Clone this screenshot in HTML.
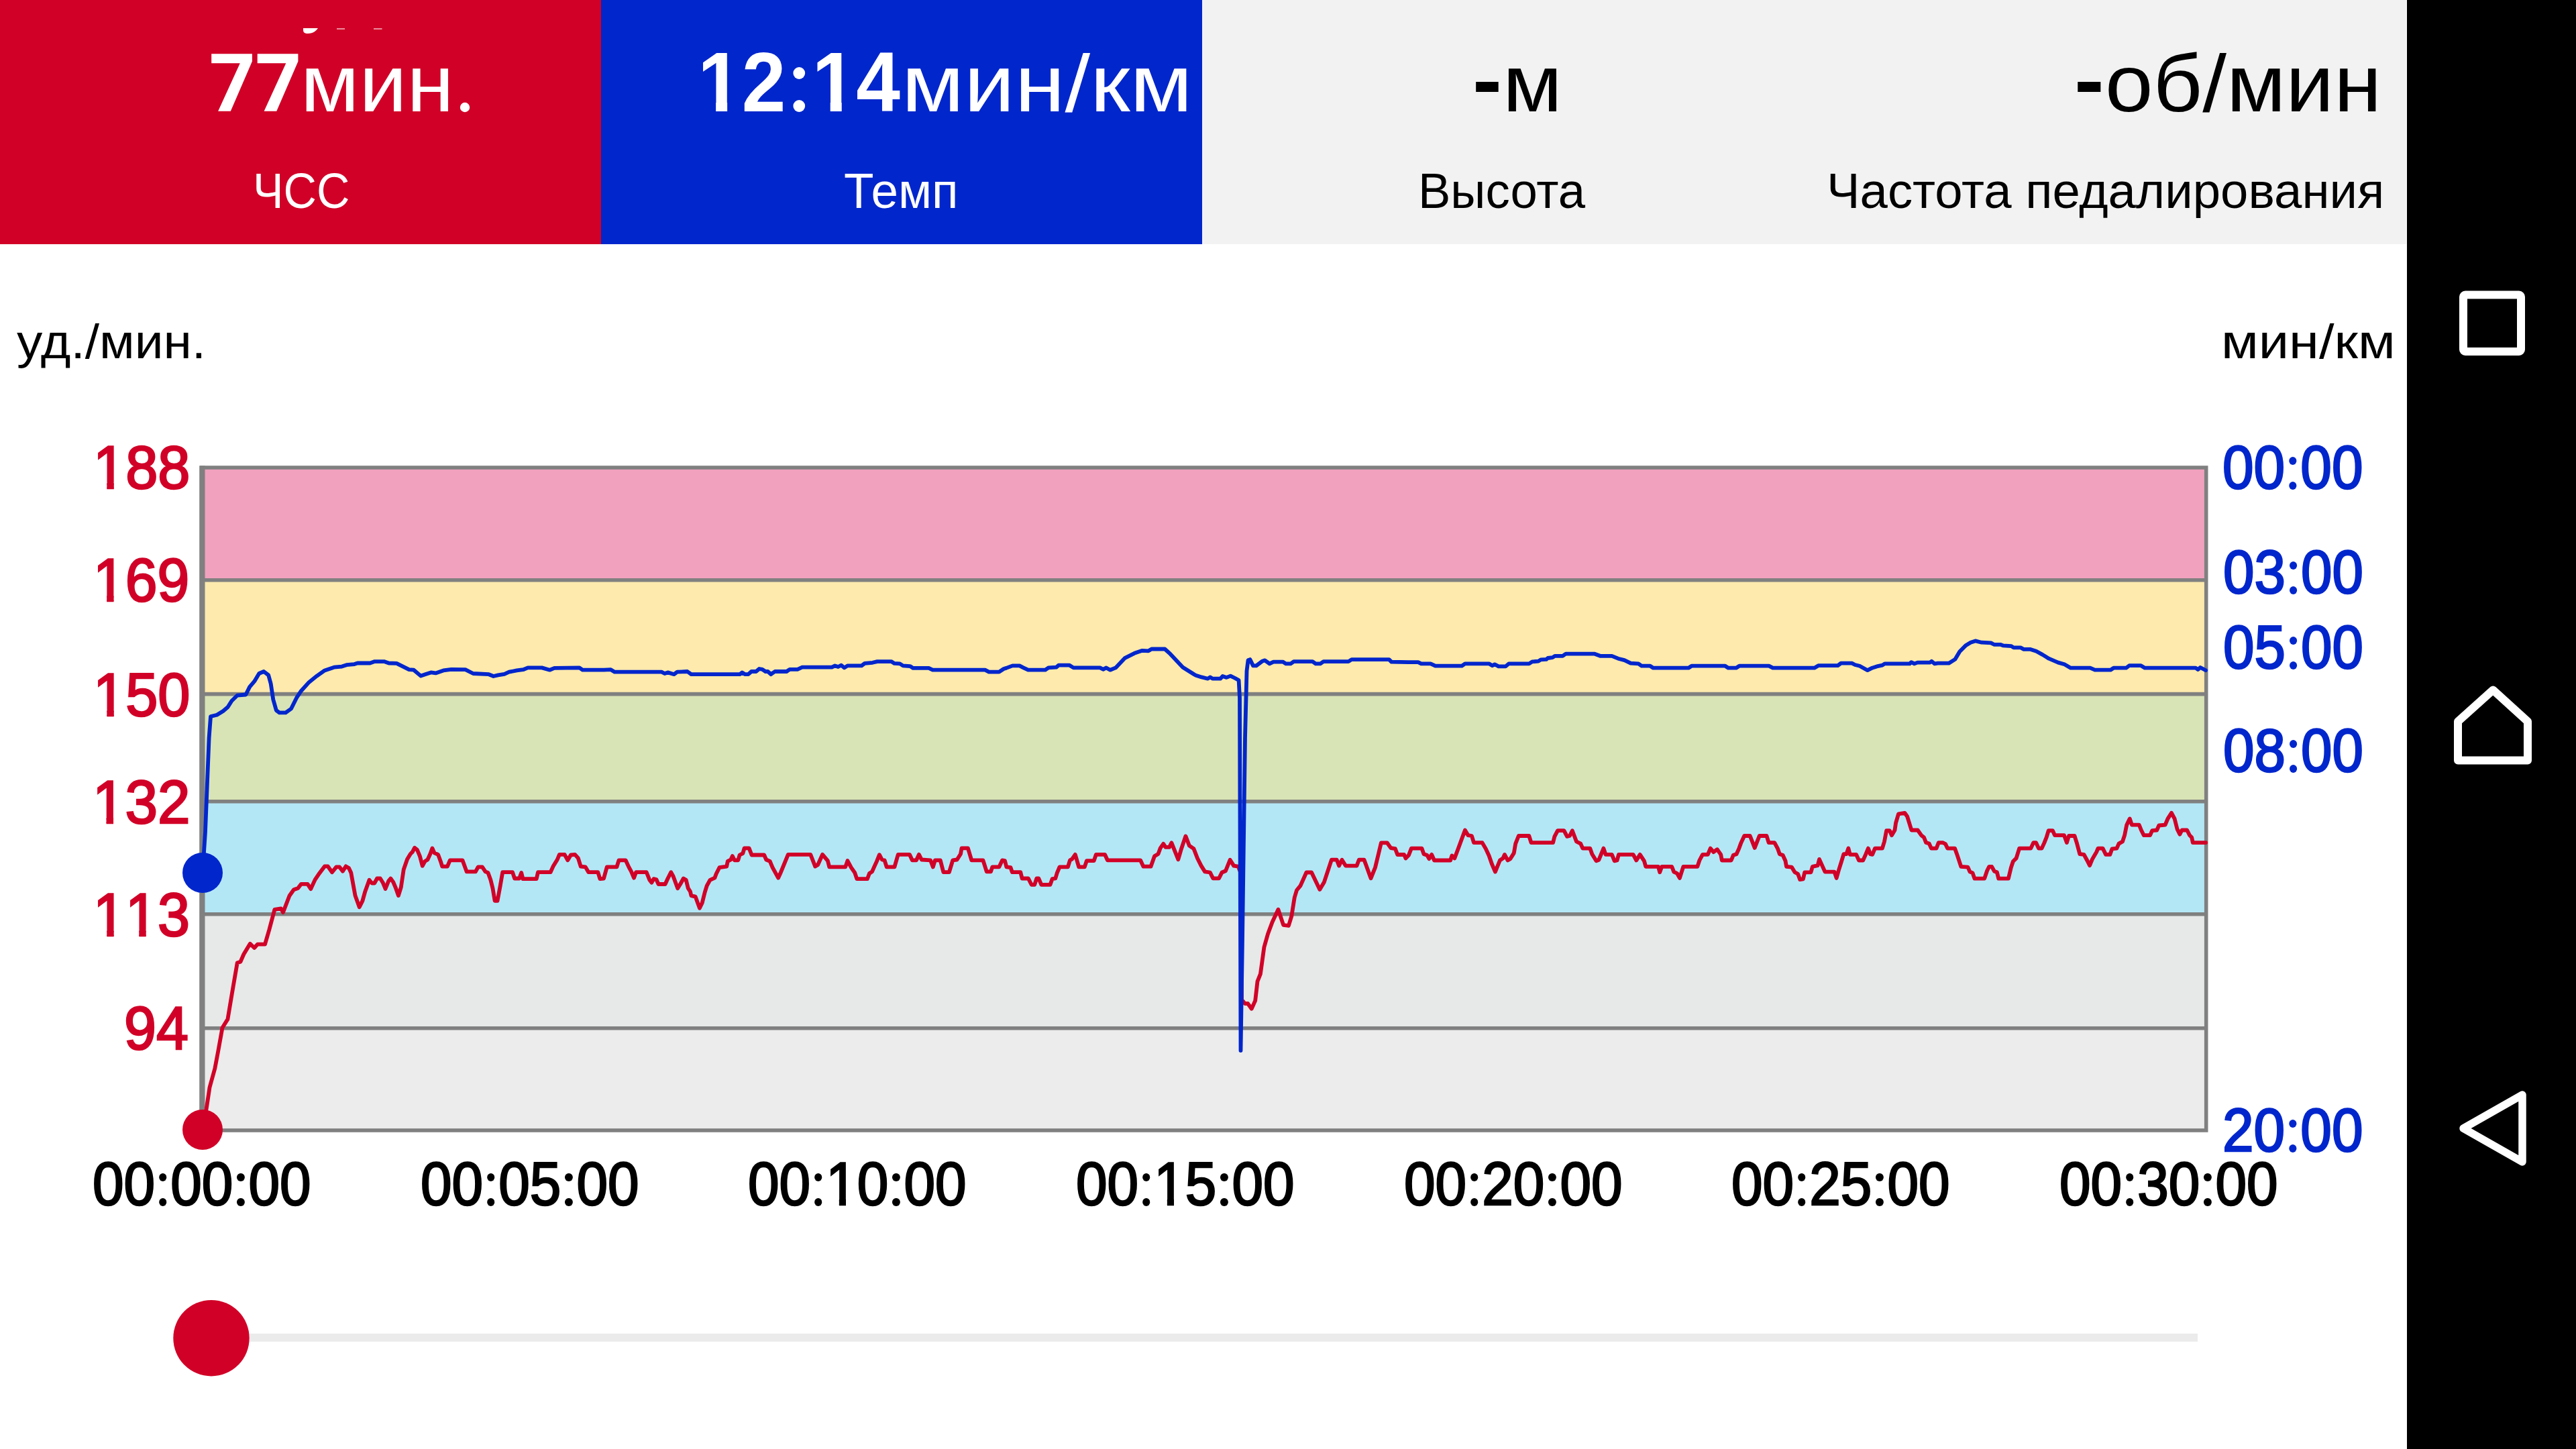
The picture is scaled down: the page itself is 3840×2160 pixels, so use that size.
<!DOCTYPE html>
<html><head><meta charset="utf-8">
<style>
html,body{margin:0;padding:0;width:3840px;height:2160px;overflow:hidden;background:#fff;font-family:"Liberation Sans",sans-serif;}
.a{position:absolute;}
.t{position:absolute;white-space:nowrap;line-height:1;transform-origin:0 0;}
.b{font-weight:bold;}
.w{color:#fff;}
.pdt{color:transparent!important;}
.cl,.cb{position:relative;color:transparent!important;-webkit-text-stroke-color:transparent!important;}
.cl::before,.cl::after,.cb::before,.cb::after{content:"";position:absolute;left:50%;border-radius:50%;background:var(--c);}
.cl::before,.cl::after{width:12.5px;height:12px;margin-left:-6.25px;}
.cl::before{top:35px}.cl::after{top:72px}
.cb::before,.cb::after{width:19px;height:18px;margin-left:-9.5px;}
.cb::before{top:48px}.cb::after{top:97px}
.o1{display:inline-block;clip-path:polygon(-0.2em -0.3em,0.8em -0.3em,0.8em 0.735em,0.374em 0.735em,0.374em 1.2em,0.23em 1.2em,0.23em 0.735em,-0.2em 0.735em);}
.o1r{display:inline-block;clip-path:polygon(-0.2em -0.3em,0.8em -0.3em,0.8em 0.755em,0.356em 0.755em,0.356em 1.2em,0.235em 1.2em,0.235em 0.755em,-0.2em 0.755em);}

</style></head><body>
<!-- header -->
<div class="a" style="left:0;top:0;width:896px;height:364px;background:#d10027"></div>
<div class="a" style="left:896px;top:0;width:896px;height:364px;background:#0026cc"></div>
<div class="a" style="left:1792px;top:0;width:1795px;height:364px;background:#f2f2f2"></div>
<!-- nav bar -->
<div class="a" style="left:3588px;top:0;width:252px;height:2160px;background:#000"></div>
<svg class="a" style="left:0;top:0" width="3840" height="2160" viewBox="0 0 3840 2160">
  <!-- zones -->
  <rect x="302" y="697" width="2987" height="168" fill="#f1a1be"/>
  <rect x="302" y="864.7" width="2987" height="170" fill="#feeaad"/>
  <rect x="302" y="1034.5" width="2987" height="160" fill="#d9e4b6"/>
  <rect x="302" y="1194.5" width="2987" height="168" fill="#b4e7f6"/>
  <rect x="302" y="1362.5" width="2987" height="170" fill="#e7e8e8"/>
  <rect x="302" y="1532.5" width="2987" height="153" fill="#ececec"/>
  <g stroke="#808080" stroke-width="5.6" fill="none">
    <line x1="302" y1="864.7" x2="3289" y2="864.7"/>
    <line x1="302" y1="1034.6" x2="3289" y2="1034.6"/>
    <line x1="302" y1="1194.7" x2="3289" y2="1194.7"/>
    <line x1="302" y1="1362.7" x2="3289" y2="1362.7"/>
    <line x1="302" y1="1532.7" x2="3289" y2="1532.7"/>
    <rect x="300" y="697" width="2988.7" height="988"/>
  </g>
  <line x1="302" y1="694.2" x2="302" y2="1687.8" stroke="#808080" stroke-width="7"/>
  <!-- 77 glyphs -->
  <polygon points="315.2,80.2 375.9,80.2 375.9,91.4 343.8,165.8 325.1,165.8 357.8,94.3 315.2,94.3" fill="#fff"/>
  <polygon points="383.7,80.2 444.4,80.2 444.4,91.4 412.3,165.8 393.6,165.8 426.3,94.3 383.7,94.3" fill="#fff"/>
  <circle cx="693" cy="160" r="7.2" fill="#fff"/>
  <!-- clipped text fragments -->
  <path d="M452,42 L474,42 C471,46 467,50 459,50 C454,50 452,48 452,45 Z" fill="#fff"/>
  <rect x="502" y="42" width="12" height="2" fill="#fff" opacity="0.55"/>
  <rect x="557" y="42" width="12.5" height="2" fill="#fff" opacity="0.55"/>
  <!-- nav icons -->
  <g stroke="#fff" stroke-width="12" fill="none" stroke-linejoin="round">
    <rect x="3672" y="439.5" width="86" height="84.5" rx="3"/>
    <path d="M3664,1133.5 L3664,1075.5 L3716.3,1028.5 L3768,1075.5 L3768,1133.5 Z"/>
    <path d="M3760,1632 L3760,1732 L3672,1682 Z" stroke-width="11.5"/>
  </g>
  <!-- slider -->
  <rect x="372" y="1988" width="2904" height="12" fill="#ebebeb"/>
  <circle cx="315" cy="1994.7" r="56.7" fill="#d10027"/>
</svg>
<div class="t" style="left:448.0px;top:64.0px;font-size:121px;transform:scaleX(1.0509);color:#fff;--c:#fff;">мин<span class="pdt">.</span></div>
<div class="t" style="left:1039.5px;top:60.0px;font-size:126px;transform:scaleX(0.9366);font-weight:bold;color:#fff;--c:#fff;"><span class="o1">1</span>2<span class="cb">:</span><span class="o1">1</span>4</div>
<div class="t" style="left:1343.7px;top:64.0px;font-size:121px;transform:scaleX(1.1194);color:#fff;--c:#fff;">мин/км</div>
<div class="t" style="left:2194.8px;top:55.5px;font-size:126px;transform:scaleX(1.0469);font-weight:bold;color:#000;--c:#000;">-</div>
<div class="t" style="left:2239.8px;top:64.0px;font-size:121px;transform:scaleX(1.0672);color:#000;--c:#000;">м</div>
<div class="t" style="left:3092.4px;top:55.5px;font-size:126px;transform:scaleX(1.0656);font-weight:bold;color:#000;--c:#000;">-</div>
<div class="t" style="left:3138.1px;top:64.0px;font-size:121px;transform:scaleX(1.0629);color:#000;--c:#000;">об/мин</div>
<div class="t" style="left:376.8px;top:247.0px;font-size:75px;transform:scaleX(0.9114);color:#fff;--c:#fff;">ЧСС</div>
<div class="t" style="left:1257.9px;top:247.0px;font-size:75px;transform:scaleX(0.9716);color:#fff;--c:#fff;">Темп</div>
<div class="t" style="left:2114.0px;top:247.0px;font-size:75px;transform:scaleX(0.9667);color:#000;--c:#000;">Высота</div>
<div class="t" style="left:2722.5px;top:247.0px;font-size:75px;transform:scaleX(0.9911);color:#000;--c:#000;">Частота педалирования</div>
<div class="t" style="left:25.0px;top:471.5px;font-size:73px;transform:scaleX(1.0496);color:#000;--c:#000;">уд./мин.</div>
<div class="t" style="left:3311.4px;top:472.0px;font-size:73px;transform:scaleX(1.1116);color:#000;--c:#000;">мин/км</div>
<div class="t" style="left:139.3px;top:650.5px;font-size:91px;transform:scaleX(0.9507);-webkit-text-stroke:2.6px #d10027;color:#d10027;--c:#d10027;"><span class="o1r">1</span>88</div>
<div class="t" style="left:139.4px;top:819.3px;font-size:91px;transform:scaleX(0.9437);-webkit-text-stroke:2.6px #d10027;color:#d10027;--c:#d10027;"><span class="o1r">1</span>69</div>
<div class="t" style="left:139.3px;top:989.5px;font-size:91px;transform:scaleX(0.9510);-webkit-text-stroke:2.6px #d10027;color:#d10027;--c:#d10027;"><span class="o1r">1</span>50</div>
<div class="t" style="left:137.8px;top:1149.7px;font-size:91px;transform:scaleX(0.9585);-webkit-text-stroke:2.6px #d10027;color:#d10027;--c:#d10027;"><span class="o1r">1</span>32</div>
<div class="t" style="left:139.4px;top:1317.5px;font-size:91px;transform:scaleX(0.9479);-webkit-text-stroke:2.6px #d10027;color:#d10027;--c:#d10027;"><span class="o1r">1</span><span class="o1r">1</span>3</div>
<div class="t" style="left:185.0px;top:1486.9px;font-size:91px;transform:scaleX(0.9474);-webkit-text-stroke:2.6px #d10027;color:#d10027;--c:#d10027;">94</div>
<div class="t" style="left:3313.2px;top:651.0px;font-size:91px;transform:scaleX(0.9196);-webkit-text-stroke:2.6px #0026cc;color:#0026cc;--c:#0026cc;">00<span class="cl">:</span>00</div>
<div class="t" style="left:3313.7px;top:806.9px;font-size:91px;transform:scaleX(0.9174);-webkit-text-stroke:2.6px #0026cc;color:#0026cc;--c:#0026cc;">03<span class="cl">:</span>00</div>
<div class="t" style="left:3313.7px;top:919.1px;font-size:91px;transform:scaleX(0.9174);-webkit-text-stroke:2.6px #0026cc;color:#0026cc;--c:#0026cc;">05<span class="cl">:</span>00</div>
<div class="t" style="left:3313.7px;top:1072.5px;font-size:91px;transform:scaleX(0.9174);-webkit-text-stroke:2.6px #0026cc;color:#0026cc;--c:#0026cc;">08<span class="cl">:</span>00</div>
<div class="t" style="left:3312.7px;top:1639.2px;font-size:91px;transform:scaleX(0.9197);-webkit-text-stroke:2.6px #0026cc;color:#0026cc;--c:#0026cc;">20<span class="cl">:</span>00</div>
<div class="t" style="left:138.1px;top:1719.1px;font-size:91px;transform:scaleX(0.9186);-webkit-text-stroke:2.6px #000;color:#000;--c:#000;">00<span class="cl">:</span>00<span class="cl">:</span>00</div>
<div class="t" style="left:626.7px;top:1719.1px;font-size:91px;transform:scaleX(0.9186);-webkit-text-stroke:2.6px #000;color:#000;--c:#000;">00<span class="cl">:</span>05<span class="cl">:</span>00</div>
<div class="t" style="left:1115.3px;top:1719.1px;font-size:91px;transform:scaleX(0.9186);-webkit-text-stroke:2.6px #000;color:#000;--c:#000;">00<span class="cl">:</span><span class="o1r">1</span>0<span class="cl">:</span>00</div>
<div class="t" style="left:1603.9px;top:1719.1px;font-size:91px;transform:scaleX(0.9186);-webkit-text-stroke:2.6px #000;color:#000;--c:#000;">00<span class="cl">:</span><span class="o1r">1</span>5<span class="cl">:</span>00</div>
<div class="t" style="left:2092.5px;top:1719.1px;font-size:91px;transform:scaleX(0.9186);-webkit-text-stroke:2.6px #000;color:#000;--c:#000;">00<span class="cl">:</span>20<span class="cl">:</span>00</div>
<div class="t" style="left:2581.1px;top:1719.1px;font-size:91px;transform:scaleX(0.9186);-webkit-text-stroke:2.6px #000;color:#000;--c:#000;">00<span class="cl">:</span>25<span class="cl">:</span>00</div>
<div class="t" style="left:3069.7px;top:1719.1px;font-size:91px;transform:scaleX(0.9186);-webkit-text-stroke:2.6px #000;color:#000;--c:#000;">00<span class="cl">:</span>30<span class="cl">:</span>00</div>

<svg class="a" style="left:0;top:0" width="3840" height="2160" viewBox="0 0 3840 2160">
<polyline points="302,1684 307.7,1652.7 312.5,1621 320.4,1592.4 325.2,1567 331.5,1532 339.4,1519.4 345.8,1481.3 353.7,1435.2 358.5,1433.7 363.3,1422.5 372.8,1406.7 379.1,1413 383.9,1407.6 395,1407.6 401.3,1386 409.3,1355.9 418.8,1354.3 422,1360 431.5,1335.2 437.9,1326.3 444.2,1324.1 449,1317.8 458.5,1317.8 463.3,1325.1 469.6,1311.4 476,1301.9 483.9,1291.4 488.7,1291.4 495,1300.3 501.3,1292.4 506.1,1292.4 510.9,1298.7 515.6,1291.4 520,1294 523.3,1300.9 526.4,1318 529.5,1335.1 535.7,1352.2 540.4,1342.9 544.3,1328.9 550.5,1311.8 554.3,1316.5 558.2,1316.5 562.1,1309.5 566.8,1309.5 570.7,1315.7 574.5,1325 579.2,1313.4 582.3,1309.5 586.2,1314.9 590.1,1324.2 593.9,1335.1 597.8,1322.7 601.7,1296.3 607.1,1280.7 611.8,1273 614.9,1269.9 618,1263.7 621.9,1266.8 625.8,1276.1 629.7,1290.8 633.5,1283.9 637.4,1281.5 641.3,1273 644.4,1264.4 647.5,1271.4 653,1273.8 656.8,1283.9 659.2,1291.6 666.9,1291.6 670.8,1282.3 689.4,1282.3 695.7,1299.4 708.9,1299.4 712.7,1292.4 718.9,1292.4 723.6,1299.4 727.5,1300.9 731.4,1311.8 734.5,1324.2 737.6,1342.9 741.5,1342.9 745.3,1322.7 749.2,1300.2 764,1300.2 767.1,1309.5 774.1,1309.5 777.2,1300.9 779.5,1310.2 799.7,1310.2 802,1300.2 820.6,1300.2 824.5,1291.6 830.7,1281.5 833.9,1273.8 841.6,1273.8 846.3,1282.3 850.9,1274.5 857.1,1273.8 861.8,1279.2 865.7,1291.6 872.7,1292.4 877.3,1300.2 891.3,1300.2 894.4,1310.2 900,1309.5 904.7,1292.4 919.4,1292.4 922.5,1282.3 932.6,1282.3 937.3,1292.4 941.1,1299.4 945,1308.7 948.1,1300.2 963.7,1300.2 968.3,1311.8 971.4,1315.7 974.5,1310.2 978.4,1311 981.5,1318 991.6,1318 995.5,1309.5 1000.2,1300.2 1003.3,1305.6 1010.2,1324.2 1014.1,1318 1018.8,1309.5 1022.7,1311.8 1025.8,1324.2 1028.9,1328.9 1030.4,1335.1 1036.6,1336.6 1042.9,1353.7 1046.7,1346 1050.6,1330.4 1053.7,1320.3 1058.4,1311.8 1065.4,1308.7 1067.7,1302.5 1072.4,1293.2 1083.2,1291.6 1084.8,1283.9 1089.4,1281.5 1091.8,1276.1 1094.9,1282.3 1100.3,1282.3 1102.6,1274.5 1107.3,1272.2 1109.6,1264.4 1116.6,1264.4 1120.5,1274.5 1139.1,1274.5 1142.2,1281.5 1147.7,1283.9 1151.6,1293.2 1160.1,1308.7 1164,1300.2 1174.8,1273.8 1208.2,1273.8 1215.2,1291.6 1219.1,1289.3 1226.1,1273.8 1233.9,1283.1 1236.2,1292.4 1260.2,1292.4 1263.4,1283.1 1268.8,1293.2 1274.2,1300.9 1277.3,1310.2 1292.9,1310.2 1296,1302 1300,1299.4 1303.1,1292.4 1307,1283.9 1310.9,1274.2 1314.8,1281.5 1318.6,1282.3 1321.7,1292.4 1333.4,1292.4 1338.8,1273.8 1355.9,1273.8 1359.8,1282.3 1366,1282.3 1369.9,1273.8 1373.8,1281.5 1387,1282.3 1390.8,1292.4 1393.9,1282.3 1401.7,1282.3 1406.4,1300.2 1414.9,1300.2 1420.3,1282.3 1426.6,1281.5 1432,1273 1433.5,1264.4 1442.9,1264.4 1448.3,1282.3 1465.4,1282.3 1470.8,1299.4 1477,1299.4 1479.3,1292.4 1489.4,1292.4 1494.1,1282.3 1498,1283.1 1500.3,1292.4 1506.5,1293.2 1508.9,1300.2 1521.3,1300.2 1523.6,1309.5 1532.9,1309.5 1537.6,1318.8 1542.2,1318.8 1545.3,1309.5 1548.4,1309.5 1552.3,1318.8 1565.5,1318.8 1568.6,1310.2 1573.3,1309.5 1575.6,1301.7 1579.5,1292.4 1591.9,1292.4 1595,1282.3 1598.1,1280.7 1602.8,1273.8 1608.2,1292.4 1616.8,1292.4 1619.9,1283.1 1630.7,1283.1 1633.9,1273.8 1647,1273.8 1650.9,1282.3 1700,1282.3 1704.4,1291.7 1715.5,1291.7 1721,1276.2 1726.5,1272.9 1729.8,1264.1 1734.2,1257.9 1737.5,1262.9 1743.1,1262.9 1746.4,1256.3 1750.8,1267.4 1756.3,1281.3 1760.7,1266.3 1767.4,1246.4 1772.9,1260.7 1779.5,1265.2 1785,1279.5 1790.6,1290.6 1796.1,1299.4 1803.8,1300.5 1808.2,1309.3 1817.1,1309.3 1821.5,1300.5 1827,1298.3 1833.6,1281.7 1839.2,1290.6 1845.8,1291.7 1849,1300 1851,1490 1855.7,1496 1860.1,1496 1865.7,1503.7 1871.2,1491.6 1874.5,1462.8 1878.9,1451.8 1884.4,1412 1890,1392.2 1896.6,1374.5 1905.4,1355.7 1913.1,1378.9 1920.9,1380 1925.3,1365.7 1929.7,1338 1933,1327 1938.5,1320.4 1947.4,1300.5 1955.1,1300.5 1967.3,1325.9 1973.9,1314.9 1984.9,1281.7 1992.7,1281.7 1996,1290.6 2000.4,1281.7 2005.9,1290.6 2022.5,1290.6 2025.8,1281.7 2033.5,1281.7 2043.5,1309.3 2050.1,1292.8 2058.9,1256.3 2067.7,1256.3 2073.3,1264.1 2079.9,1265.2 2083.2,1274 2093.1,1274 2095.4,1279.5 2100,1274.7 2103.9,1264.6 2119.4,1264.6 2122.5,1273.2 2127.2,1274.7 2130.3,1280.2 2134.2,1273.9 2138,1282.5 2162.1,1282.5 2164.4,1275.5 2168.3,1279.4 2173,1267 2177.6,1254.5 2183.9,1237.5 2188.5,1245.2 2193.9,1246 2197,1256.1 2209.5,1256.1 2214.9,1265.4 2219.6,1275.5 2224.2,1288.7 2228.9,1299.6 2235.9,1282.5 2240.5,1279.4 2242.9,1273.9 2247.5,1282.5 2251.4,1280.2 2256.8,1271.6 2259.2,1257.6 2263.8,1246 2279.3,1246 2282.5,1256.1 2315.1,1256.1 2317.4,1246.8 2322,1238.2 2331.4,1238.2 2336,1246.8 2339.9,1246 2343.8,1238.2 2350,1254.5 2356.2,1257.6 2359.3,1264.6 2370.2,1264.6 2373.3,1273.2 2379.5,1283.3 2383.4,1281.7 2390.4,1264.6 2393.5,1273.9 2402.8,1273.9 2406.7,1283.3 2410.6,1282.5 2412.9,1273.9 2434.6,1273.9 2439.3,1282.5 2444.7,1273.9 2450.9,1283.3 2453.3,1291.8 2471.9,1291.8 2474.2,1300.3 2477.3,1291.8 2492.1,1291.8 2495.2,1299.6 2500,1302 2503.9,1308.9 2509.3,1291.8 2530.3,1291.8 2533.4,1282.5 2538,1273.9 2545.8,1273.9 2549.7,1264.6 2554.3,1270.1 2559.8,1266.2 2565.2,1273.9 2566.8,1282.5 2580.7,1282.5 2583.9,1274.7 2588.5,1273.2 2592.4,1264.6 2595.5,1256.1 2600.2,1246 2608.7,1246 2615.7,1263.9 2622.7,1246 2633.5,1246 2636.6,1256.1 2645.2,1256.1 2649.8,1264.6 2652.9,1273.2 2657.6,1274.7 2661.5,1283.3 2663,1291.8 2670.8,1292.6 2675.5,1300.3 2680.1,1302.7 2683.2,1311.2 2687.9,1310.4 2690.2,1300.3 2699.5,1300.3 2701.9,1291.8 2709.6,1290.2 2712,1280.9 2720.5,1299.6 2734.5,1299.6 2737.6,1308.9 2740.7,1298 2744.6,1285.6 2748.4,1273.2 2752.3,1273.2 2755.4,1264.6 2757.8,1273.9 2767.1,1273.9 2771,1282.5 2777.2,1282.5 2781.1,1273.9 2784.9,1264.6 2788,1273.2 2791.1,1273.9 2795,1264.6 2805.9,1264.6 2809,1254.5 2812.1,1238.2 2816.8,1238.2 2819.9,1245.2 2824.5,1237.5 2826.1,1226.6 2830,1213.4 2839.3,1211.8 2843.2,1217.3 2849.4,1237.5 2858.7,1237.5 2864.1,1245.2 2868,1248.3 2871.1,1256.1 2875.8,1257.6 2878.9,1264.6 2886.6,1264.6 2889.8,1256.1 2896,1256.1 2900,1258 2903.1,1264.6 2914,1264.6 2917.1,1273.2 2923.3,1291.8 2933.4,1292.6 2936.5,1299.6 2940.4,1301.1 2943.5,1309.7 2958.2,1309.7 2962.1,1298 2965.2,1291.8 2969.1,1291.8 2973,1298.8 2976.9,1300.3 2979.2,1309.7 2993.9,1309.7 2997.8,1293.4 3000.9,1284 3005.6,1279.4 3010.2,1264.6 3027.3,1264.6 3031.2,1256.1 3035.1,1256.1 3039,1264.6 3043.6,1264.6 3047.5,1256.1 3050.6,1248.3 3053.7,1238.2 3059.9,1238.2 3063,1245.2 3077,1245.2 3080.9,1256.1 3084,1246 3092.5,1246 3095.7,1256.1 3100.3,1273.2 3106.5,1273.9 3111.2,1282.5 3115.1,1290.2 3118.9,1280.9 3125.2,1270.1 3127.5,1264.6 3134.5,1264.6 3139.1,1273.9 3145.3,1273.9 3148.4,1265.4 3155.4,1264.6 3158.5,1257.6 3164,1254.5 3167.1,1245.2 3170.2,1229.7 3174.8,1220.4 3177.9,1229.7 3188.8,1229.7 3191.9,1237.5 3195.8,1245.2 3205.1,1245.2 3208.2,1238.2 3215.2,1237.5 3218.3,1230.5 3227.6,1229.7 3231.5,1220.4 3237,1211.8 3241.6,1220.4 3245.5,1235.9 3249.4,1243.7 3252.5,1237.5 3260.2,1237.5 3264.1,1245.2 3267.2,1248.3 3268.8,1256.1 3288.2,1256.1" fill="none" stroke="#d10027" stroke-width="5.8" stroke-linejoin="round" stroke-linecap="round"/>
<polyline points="302,1301 306,1240 311.6,1100 314,1068 323.3,1065.8 332.6,1060 339.6,1054 345.4,1044.8 353.6,1036.7 366.4,1035.5 372.2,1023.9 379.2,1015.7 386.2,1004 393.2,1001 400.2,1006.4 403.7,1019.2 407.2,1042.5 411.8,1058.8 416.5,1062.3 425.8,1062.3 434,1056.5 442.1,1040.2 449.1,1029.7 460.7,1016.9 472.4,1007.6 484,999.4 498,994.7 509.6,993.6 516.6,991.2 528.3,990.1 533,988.5 551.6,988.5 558.6,986.1 572.5,986.1 579.5,988.5 591.2,988.9 602.8,994.7 609.8,998.2 616.8,998.7 627.3,1007.6 635.4,1004.8 642.4,1002.4 649.4,1003.4 661,999.4 672.7,997.8 693.7,998.2 705.3,1004 728.6,1005.2 735.6,1008 742.6,1006.4 751.9,1004.8 758.9,1001.7 770.5,999.4 779.9,998.2 786.8,995.4 807.8,995.4 819.4,998.7 826.4,995.9 863.7,995.4 868.4,998.7 900,998.7 910.5,998.2 916.3,1001.7 986.2,1001.7 990.8,1004 995.5,1002.4 1004.8,1005.2 1009.5,1001.7 1024.6,1001 1030.4,1005.2 1102.7,1005.2 1106.2,1002.4 1110.8,1005.2 1115.5,1005.2 1120.1,1001 1127.1,1001 1131.8,997 1136.4,997.8 1141.1,1001 1144.6,1001 1149.2,1005.2 1155.1,1001 1172.5,1001 1177.2,997.8 1188.8,997.8 1195.8,994.7 1240.1,994.7 1244.7,992.4 1249.4,994 1254.1,991.7 1258.7,995.4 1263.4,992.4 1284.3,992.4 1289,988.9 1300.7,987.8 1307.6,986.1 1328.6,986.1 1333.3,988.9 1341.4,989.4 1346.1,992.4 1356.6,993.1 1361.2,995.9 1384.5,995.9 1390.3,998.7 1468.4,998.7 1474.2,1001.7 1489.3,1001.7 1496.3,997 1500,995.9 1509.3,992.4 1519.8,992.4 1525.6,995.4 1532.6,998.7 1558.2,998.7 1562.9,995.4 1574.5,994.7 1578,991.7 1594.3,991.7 1600.2,995.4 1639.8,995.4 1644.4,997.8 1649.1,995.4 1654.9,998.7 1663.1,995.4 1677,980.8 1691,973.8 1702.7,969.8 1712,970.3 1716.6,967.5 1736.4,967.5 1744.6,974.9 1763.2,994.7 1781.9,1006.4 1791.2,1009.4 1800.5,1011.7 1804,1009.4 1807.5,1011.7 1819.1,1011.7 1822.6,1008 1828.4,1009.9 1834.3,1007.6 1841.2,1011 1846.6,1014.1 1848,1040 1849.5,1566 1852,1400 1856,1100 1858.5,1000 1860.5,984.3 1863.4,983.1 1868,992.4 1872.7,992.4 1882,985.4 1885.5,984.3 1892.5,989.4 1898.3,986.6 1912.3,986.6 1917,989.4 1924,989.4 1928.6,986.1 1956.6,986.1 1961.2,989.4 1968.2,989.4 1972.9,986.1 2010.1,986.1 2014.8,983.1 2070.7,983.1 2074.2,986.6 2100,987.1 2114,987.1 2118.6,989.4 2132.6,989.4 2139.6,992.7 2179.2,992.7 2183.9,989.4 2220,989.4 2224.6,992.2 2228.1,990.3 2233.9,993.4 2244.4,993.4 2249.1,989.4 2279.4,989.4 2284,986.4 2293.3,985.7 2296.8,983.4 2305,982.9 2307.3,981 2314.3,980.1 2317.8,977.8 2329.4,977.8 2334.1,974.7 2377.2,974.7 2385.3,977.8 2402.8,977.8 2412.1,981.7 2421.5,984.1 2430.8,988.7 2442.4,989.4 2447.1,992.7 2459.9,992.7 2464.5,995.7 2517,995.7 2521.6,992.7 2571.7,992.7 2576.4,995.7 2588,995.7 2592.7,992.7 2636.9,992.7 2642.7,995.7 2700,995.7 2704.7,995.7 2710.5,992.2 2739.6,992.2 2744.3,988.7 2760.6,988.7 2765.2,991 2772.2,992.7 2783.9,999.2 2790.8,995.7 2797.8,993.4 2806,991.7 2809.5,989.4 2846.8,989.4 2849.1,987.1 2853.7,989.4 2858.4,987.6 2877,987.6 2879.4,985.7 2884,989.4 2888.7,988.7 2905,988.7 2914.3,982.9 2921.3,971.2 2930.6,961.9 2937.6,957.7 2944.6,955.4 2953.9,957.7 2967.9,958.4 2972.5,960.8 2981.9,960.8 2986.5,962.4 2998.2,963.1 3001.7,965.4 3012.1,965.4 3016.8,967.8 3026.1,967.8 3035.4,970.8 3044.7,975.9 3054.1,981.7 3068,987.6 3077.4,990.3 3086.7,995.7 3115.8,995.7 3122.8,998.7 3146.1,998.7 3150.7,995.7 3169.4,995.7 3174,992.2 3191.5,992.2 3197.3,995.7 3273,995.7 3276.5,998 3280,995 3288.1,999.2" fill="none" stroke="#0026cc" stroke-width="5.8" stroke-linejoin="round" stroke-linecap="round"/>
<circle cx="302" cy="1301" r="30" fill="#0026cc"/>
<circle cx="302" cy="1684" r="30" fill="#d10027"/>
</svg>
</body></html>
